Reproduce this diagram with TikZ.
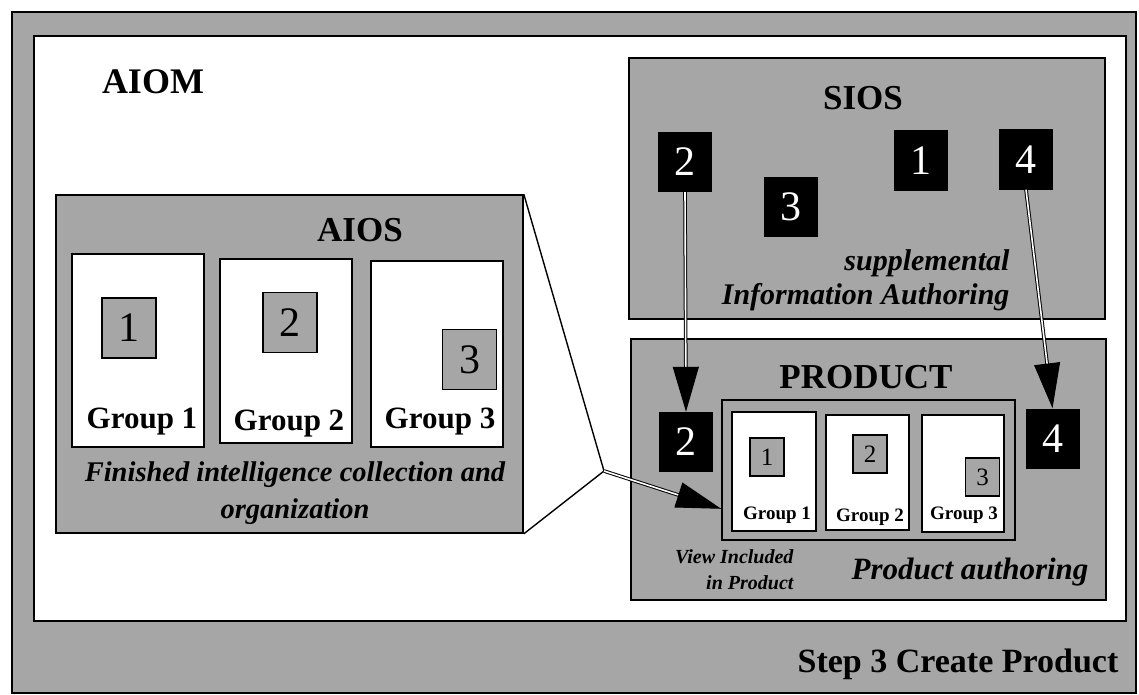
\documentclass[tikz,border=0pt]{standalone}
\usepackage{fontspec}
\setmainfont{Liberation Serif}
\usetikzlibrary{arrows.meta, positioning}

\tikzset{
  halftone/.style={fill=black!35},
  panel/.style={draw, line width=1.6pt, halftone, inner sep=0pt},
  sheet/.style={draw, line width=1.6pt, fill=white, inner sep=0pt},
  tag/.style={draw, line width=1.4pt, halftone, inner sep=0pt, minimum width=54pt, minimum height=60pt, font=\fontsize{42}{42}\selectfont},
  smalltag/.style={tag, line width=1.2pt, minimum width=34pt, minimum height=38pt, font=\fontsize{25}{25}\selectfont},
  blk/.style={fill=black, text=white, inner sep=0pt, minimum width=54pt, minimum height=60pt, font=\fontsize{42}{42}\selectfont},
  title/.style={font=\bfseries\fontsize{35}{35}\selectfont},
  grp/.style={font=\bfseries\fontsize{31}{31}\selectfont},
  smallgrp/.style={font=\bfseries\fontsize{19}{19}\selectfont},
  note/.style={font=\bfseries\itshape\fontsize{30}{34}\selectfont},
  dblarrow/.style={line width=1pt, double=white, double distance=1.6pt, -{Triangle[length=45pt, width=26pt]}},
}

\begin{document}
\begin{tikzpicture}[x=1pt, y=-1pt]
    \useasboundingbox (0,0) rectangle (1139,695);

    % frame and AIOM sheet
    \node[panel, minimum width=1124pt, minimum height=681pt] (frame) at (574,352.5) {};
    \node[sheet, minimum width=1092pt, minimum height=585pt] (aiom) at (580,328.5) {};
    \node[title, font=\bfseries\fontsize{36}{36}\selectfont] (aiomlbl) at (153,82) {AIOM};
    \node[font=\bfseries\fontsize{34}{34}\selectfont] (steplbl) at (958,664) {Step 3 Create Product};

    % AIOS
    \node[panel, minimum width=467pt, minimum height=338pt] (aios) at (289.5,364) {};
    \node[title] (aioslbl) at (360,230) {AIOS};
    \node[sheet, minimum width=132pt, minimum height=193pt] (g1) at (138,350.5) {};
    \node[sheet, minimum width=132pt, minimum height=184pt] (g2) at (286,351) {};
    \node[sheet, minimum width=132pt, minimum height=186pt] (g3) at (437,354) {};
    \node[tag] (a1) at (129,328) {1};
    \node[tag] (a2) at (290,322.5) {2};
    \node[tag] (a3) at (469.5,359.5) {3};
    \node[grp] (g1lbl) at (142,422) {Group 1};
    \node[grp] (g2lbl) at (289,424) {Group 2};
    \node[grp] (g3lbl) at (440,422) {Group 3};
    \node[note, align=center, font=\bfseries\itshape\fontsize{28.5}{37}\selectfont] (aiosnote) at (295,493)
        {Finished intelligence collection and\\organization};

    % SIOS
    \node[panel, minimum width=476pt, minimum height=261pt] (sios) at (867,188.5) {};
    \node[title] (sioslbl) at (863,98) {SIOS};
    \node[blk] (s2) at (685,162) {2};
    \node[blk] (s3) at (790.5,207) {3};
    \node[blk] (s1) at (921,160.5) {1};
    \node[blk] (s4) at (1026,159.5) {4};
    \node[note, align=right, anchor=east] (siosnote) at (1013,280)
        {supplemental\\Information Authoring};

    % PRODUCT
    \node[panel, minimum width=475pt, minimum height=261pt] (prod) at (868.5,469.5) {};
    \node[title] (prodlbl) at (866,377) {PRODUCT};
    \node[blk] (p2) at (686,442) {2};
    \node[blk] (p4) at (1052.5,438.5) {4};
    \node[panel, minimum width=293pt, minimum height=140pt] (view) at (868.5,470) {};
    \node[sheet, minimum width=84pt, minimum height=119pt] (pg1) at (774,471.5) {};
    \node[sheet, minimum width=83pt, minimum height=115pt] (pg2) at (867.5,472.5) {};
    \node[sheet, minimum width=82pt, minimum height=117pt] (pg3) at (963,473.5) {};
    \node[smalltag] (b1) at (767,457) {1};
    \node[smalltag] (b2) at (870,454) {2};
    \node[smalltag] (b3) at (982.5,477) {3};
    \node[smallgrp] (pg1lbl) at (777,515) {Group 1};
    \node[smallgrp] (pg2lbl) at (870,517) {Group 2};
    \node[smallgrp] (pg3lbl) at (964,515) {Group 3};
    \node[note, align=right, anchor=east, font=\bfseries\itshape\fontsize{20}{26}\selectfont] (viewnote) at (797,570)
        {View Included\\in Product};
    \node[note, font=\bfseries\itshape\fontsize{31}{31}\selectfont] (prodnote) at (970,572) {Product authoring};

    % zoom from AIOS into the product view
    \coordinate (zoomtip) at (604,471);
    \draw[line width=1.4pt] (aios.north east) -- (zoomtip) -- (aios.south east);
    \draw[dblarrow] (zoomtip) -- ([yshift=32pt]view.south west);

    % supplemental items pulled into the product
    \draw[dblarrow] (s2.south) -- (p2.north);
    \draw[dblarrow] (s4.south) -- (p4.north);
\end{tikzpicture}
\end{document}
